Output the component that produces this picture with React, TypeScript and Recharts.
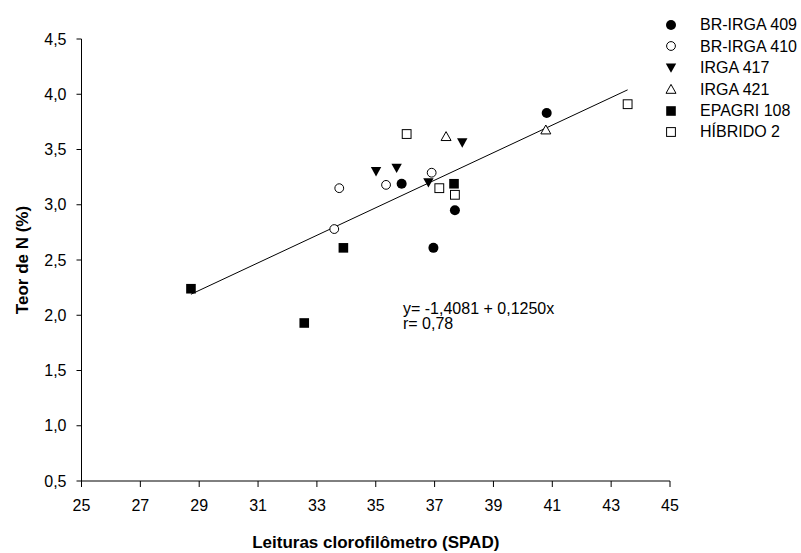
import React from 'react';
import { ScatterChart, Scatter, XAxis, YAxis, ReferenceLine } from 'recharts';

const FONT = "Arial, 'Liberation Sans', Helvetica, sans-serif";

const xTicks = [25, 27, 29, 31, 33, 35, 37, 39, 41, 43, 45];
const yTicks = [0.5, 1.0, 1.5, 2.0, 2.5, 3.0, 3.5, 4.0, 4.5];

const brIrga409 = [
  { x: 35.88, y: 3.19 },
  { x: 37.69, y: 2.95 },
  { x: 36.96, y: 2.61 },
  { x: 40.81, y: 3.83 },
];
const brIrga410 = [
  { x: 33.76, y: 3.15 },
  { x: 33.59, y: 2.78 },
  { x: 35.35, y: 3.18 },
  { x: 36.9, y: 3.29 },
];
const irga417 = [
  { x: 35.01, y: 3.3 },
  { x: 35.71, y: 3.33 },
  { x: 36.79, y: 3.2 },
  { x: 37.94, y: 3.56 },
];
const irga421 = [
  { x: 37.39, y: 3.62 },
  { x: 40.78, y: 3.68 },
];
const epagri108 = [
  { x: 28.72, y: 2.24 },
  { x: 33.9, y: 2.61 },
  { x: 32.57, y: 1.93 },
  { x: 37.66, y: 3.19 },
];
const hibrido2 = [
  { x: 36.05, y: 3.64 },
  { x: 37.16, y: 3.15 },
  { x: 37.69, y: 3.09 },
  { x: 43.56, y: 3.91 },
];

// regression line endpoints (y = -1,4081 + 0,1250x)
const regressionLine = [
  { x: 28.72, y: 2.19 },
  { x: 43.56, y: 4.04 },
];

const equationLines = ['y= -1,4081 + 0,1250x', 'r= 0,78'];

type Kind = 'fcircle' | 'ocircle' | 'ftridown' | 'otriup' | 'fsquare' | 'osquare';

const Marker = ({ kind, cx, cy }: { kind: Kind; cx: number; cy: number }) => {
  switch (kind) {
    case 'fcircle':
      return <circle cx={cx} cy={cy} r={5} fill="#000" stroke="none" />;
    case 'ocircle':
      return <circle cx={cx} cy={cy} r={4.4} fill="#fff" stroke="#000" strokeWidth={1} />;
    case 'ftridown':
      return (
        <polygon
          points={`${cx - 5.2},${cy - 4.5} ${cx + 5.2},${cy - 4.5} ${cx},${cy + 4.8}`}
          fill="#000"
          stroke="none"
        />
      );
    case 'otriup':
      return (
        <polygon
          points={`${cx - 5},${cy + 4.3} ${cx + 5},${cy + 4.3} ${cx},${cy - 4.6}`}
          fill="#fff"
          stroke="#000"
          strokeWidth={1}
        />
      );
    case 'fsquare':
      return <rect x={cx - 4.8} y={cy - 4.8} width={9.6} height={9.6} fill="#000" stroke="none" />;
    case 'osquare':
      return (
        <rect x={cx - 4.4} y={cy - 4.4} width={8.8} height={8.8} fill="#fff" stroke="#000" strokeWidth={1} />
      );
  }
  return null;
};

const makeShape = (kind: Kind) => (props: any) => <Marker kind={kind} cx={props.cx} cy={props.cy} />;

const seriesList: { name: string; data: { x: number; y: number }[]; kind: Kind }[] = [
  { name: 'BR-IRGA 409', data: brIrga409, kind: 'fcircle' },
  { name: 'BR-IRGA 410', data: brIrga410, kind: 'ocircle' },
  { name: 'IRGA 417', data: irga417, kind: 'ftridown' },
  { name: 'IRGA 421', data: irga421, kind: 'otriup' },
  { name: 'EPAGRI 108', data: epagri108, kind: 'fsquare' },
  { name: 'HÍBRIDO 2', data: hibrido2, kind: 'osquare' },
];

const fmtY = (v: number) => v.toFixed(1).replace('.', ',');

export default function App() {
  return (
    <div style={{ position: 'absolute', left: 0, top: 0, width: 801, height: 553, background: '#fff', fontFamily: FONT }}>
      <ScatterChart width={801} height={553} margin={{ top: 39, right: 131, bottom: 0, left: 0 }}>
        <XAxis
          type="number"
          dataKey="x"
          domain={[25, 45]}
          ticks={xTicks}
          interval={0}
          allowDataOverflow
          height={72}
          tickSize={6}
          tickMargin={13}
          stroke="#000"
          tick={{ fill: '#000', fontSize: 16, fontFamily: FONT }}
          label={{
            value: 'Leituras clorofilômetro (SPAD)',
            position: 'insideBottom',
            offset: 5,
            style: { fill: '#000', fontSize: 17, fontWeight: 'bold', fontFamily: FONT },
          }}
        />
        <YAxis
          type="number"
          dataKey="y"
          domain={[0.5, 4.5]}
          ticks={yTicks}
          interval={0}
          allowDataOverflow
          width={81.5}
          tickSize={5}
          tickMargin={10}
          stroke="#000"
          tickFormatter={fmtY}
          tick={{ fill: '#000', fontSize: 16, fontFamily: FONT }}
          label={{
            value: 'Teor de N (%)',
            angle: -90,
            position: 'insideLeft',
            offset: 22,
            style: { fill: '#000', fontSize: 17, fontWeight: 'bold', fontFamily: FONT, textAnchor: 'middle' },
          }}
        />
        <ReferenceLine
          segment={[regressionLine[0], regressionLine[1]]}
          stroke="#000"
          strokeWidth={1}
          ifOverflow="visible"
        />
        {seriesList.map((s) => (
          <Scatter
            key={s.name}
            name={s.name}
            data={s.data}
            shape={makeShape(s.kind)}
            isAnimationActive={false}
          />
        ))}
      </ScatterChart>

      <div
        style={{
          position: 'absolute',
          left: 403,
          top: 301,
          fontSize: 16,
          lineHeight: '15.3px',
          color: '#000',
          fontFamily: FONT,
          whiteSpace: 'nowrap',
        }}
      >
        {equationLines.map((t) => (
          <div key={t}>{t}</div>
        ))}
      </div>

      <div style={{ position: 'absolute', left: 0, top: 0, fontFamily: FONT }}>
        {seriesList.map((s, i) => {
          const cy = 25 + i * 21.45;
          return (
            <div key={s.name}>
              <svg width={24} height={24} style={{ position: 'absolute', left: 670.5 - 12, top: cy - 12 }}>
                <Marker kind={s.kind} cx={12} cy={12} />
              </svg>
              <span
                style={{
                  position: 'absolute',
                  left: 700,
                  top: cy - 7.8,
                  fontSize: 16,
                  lineHeight: '16px',
                  color: '#000',
                  whiteSpace: 'nowrap',
                }}
              >
                {s.name}
              </span>
            </div>
          );
        })}
      </div>
    </div>
  );
}
